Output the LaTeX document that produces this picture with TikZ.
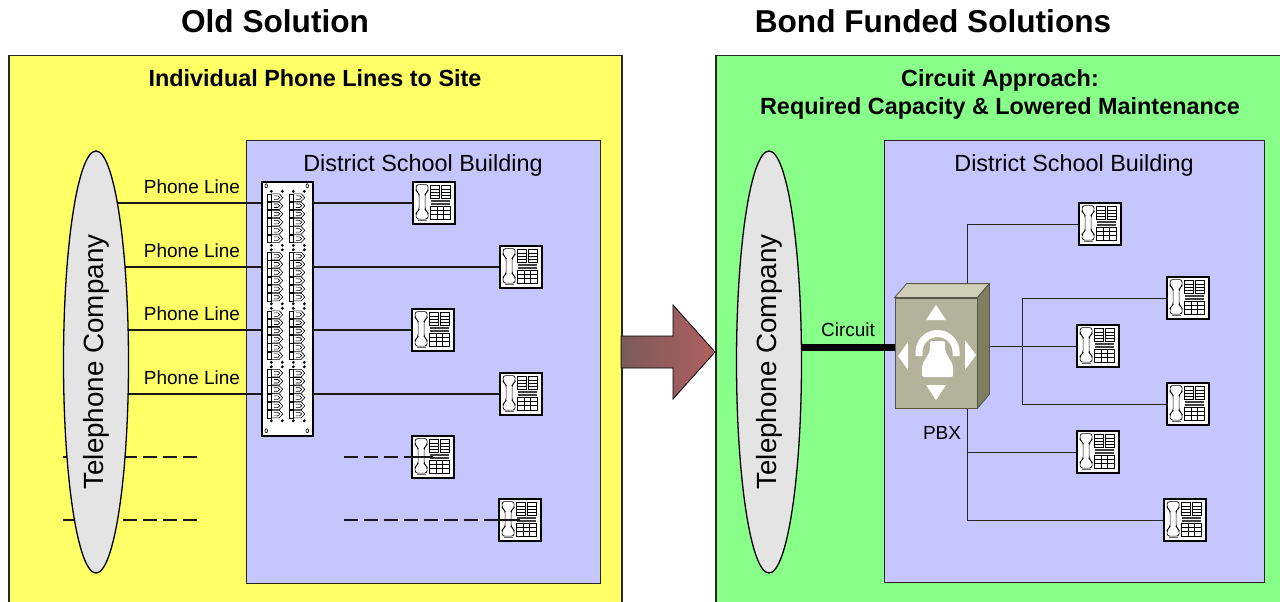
\documentclass[tikz,border=0pt]{standalone}
\usepackage{fontspec}
\setmainfont{Liberation Sans}
\usepackage{xcolor}
\definecolor{oldyellow}{HTML}{FFFF66}
\definecolor{newgreen}{HTML}{88FF88}
\definecolor{bldblue}{HTML}{C6C6FF}
\definecolor{telcogray}{HTML}{E4E4E4}
\definecolor{pbxfront}{HTML}{B3B39B}
\definecolor{pbxtop}{HTML}{CFCFB8}
\definecolor{pbxside}{HTML}{7E7E60}
\definecolor{pbxedge}{HTML}{55554A}
\definecolor{arrowdark}{HTML}{7A5A5A}
\definecolor{arrowlight}{HTML}{B06060}
\usepackage{tikz}
\usetikzlibrary{shapes.geometric, backgrounds}

%% desk set drawn over a phone node (units are pt, y grows downwards)
\newcommand{\phoneface}[1]{%
  \begin{scope}[shift={(#1.north west)}, line width=0.7pt]
    %% handset
    \draw[fill=white, rounded corners=2.5pt]
      (4,3.5) -- (16,3.5) -- (16,10) -- (13,12.5) -- (13,29) -- (16,31.5)
      -- (16,38) -- (4,38) -- (4,31.5) -- (7,29) -- (7,12.5) -- (4,10) -- cycle;
    \draw[black!60, line width=1.2pt] (6,39.5) -- (15,39.5);
    %% memory keys, two columns of four
    \draw (18.5,4.5) rectangle (27.5,17.5) (29,4.5) rectangle (38,17.5);
    \foreach \ky in {7.75,11,14.25}
      \draw (18.5,\ky) -- (27.5,\ky) (29,\ky) -- (38,\ky);
    %% display strip
    \fill[black!75] (18.5,19) rectangle (38,21);
    \fill[black!75] (18.5,22) rectangle (38,24);
    %% dial pad
    \draw (18.5,25) rectangle (38,38);
    \foreach \kx in {25,31.5} \draw (\kx,25) -- (\kx,38);
    \foreach \ky in {29.3,33.7} \draw (18.5,\ky) -- (38,\ky);
  \end{scope}}

\begin{document}
\begin{tikzpicture}[
      x=1pt, y=-1pt,
      %% Solution panels and school buildings
      panel/.style={rectangle, draw=black!85, line width=1.5pt,
                    anchor=north west, inner sep=0pt},
      building/.style={rectangle, draw=black!85, line width=1.3pt, fill=bldblue,
                       anchor=north west, inner sep=0pt},
      heading/.style={font=\fontsize{31.6}{38}\selectfont\bfseries, anchor=base},
      subhead/.style={font=\fontsize{23.4}{28}\selectfont\bfseries, align=center,
                      anchor=base, inner sep=0pt},
      bldname/.style={font=\fontsize{23.4}{28}\selectfont, anchor=base},
      telco/.style={ellipse, draw=black, line width=1.3pt, fill=telcogray,
                    rotate=90, minimum width=422pt, minimum height=65pt,
                    inner sep=0pt, font=\fontsize{27.8}{32}\selectfont},
      lbl/.style={font=\fontsize{19}{22}\selectfont, anchor=base, inner sep=0pt},
      %% Equipment
      phone/.style={rectangle, draw=black, line width=1.8pt, fill=white,
                    minimum width=42pt, minimum height=42pt, inner sep=0pt},
      patch/.style={rectangle, draw=black, line width=1.4pt, fill=white,
                    minimum width=51pt, minimum height=254pt, inner sep=0pt},
      pbxbox/.style={rectangle, draw=pbxedge, line width=0.8pt, fill=pbxfront,
                     minimum width=82pt, minimum height=110pt, inner sep=0pt},
      %% Cabling
      wire/.style={draw=black!90, line width=1.2pt},
      dashwire/.style={wire, dash pattern=on 14pt off 6pt},
      pbxwire/.style={draw=black!85, line width=1pt},
      circuit/.style={draw=black, line width=7pt},
    ]
    \useasboundingbox (0,0) rectangle (1280,602);

    %% ── Headings ────────────────────────────────────────────────────────────
    \node[heading] (oldhead) at (275,33)  {Old Solution};
    \node[heading] (newhead) at (933,33)  {Bond Funded Solutions};

    %% ── Old solution: one line per phone ────────────────────────────────────
    \node[subhead] (oldsub) at (315,86) {Individual Phone Lines to Site};
    \node[bldname] (oldbldname) at (423,171) {District School Building};
    \node[telco]   (telcoold) at (96,362) {Telephone Company};
    \node[patch]   (panel) at (287.5,309) {};

    \node[phone] (p1) at (434,203) {};
    \node[phone] (p2) at (521,267) {};
    \node[phone] (p3) at (433,330) {};
    \node[phone] (p4) at (521,394) {};
    \node[phone] (p5) at (433,457) {};
    \node[phone] (p6) at (520,520) {};

    %% jacks on the punch-down panel
    \begin{scope}[shift={(panel.north west)}, line width=0.6pt]
      \foreach \cx in {0,22} {
        \foreach \b in {0,...,3} {
          \foreach \k in {0,...,5} {
            \pgfmathsetmacro\py{12.5+58.5*\b+8.2*\k}
            \draw (\cx+5.5,\py) rectangle (\cx+10,\py+7.5);
            \draw (\cx+10,\py) -- (\cx+18,\py) -- (\cx+21.5,\py+3.75)
                  -- (\cx+18,\py+7.5) -- (\cx+10,\py+7.5);
            \draw (\cx+12.5,\py+2) -- (\cx+16.5,\py+2) -- (\cx+18.5,\py+3.75)
                  -- (\cx+16.5,\py+5.5) -- (\cx+12.5,\py+5.5);
          }
          \fill (\cx+10,10+58.5*\b) circle[radius=1.6pt]
                (\cx+21,10+58.5*\b) circle[radius=1.6pt]
                (\cx+10,64+58.5*\b) circle[radius=1.6pt]
                (\cx+21,64+58.5*\b) circle[radius=1.6pt];
        }
      }
      \draw (5,4.5) ellipse[x radius=1.3pt, y radius=2pt]
            (46,4.5) ellipse[x radius=1.3pt, y radius=2pt]
            (5,249.5) ellipse[x radius=1.3pt, y radius=2pt]
            (46,249.5) ellipse[x radius=1.3pt, y radius=2pt];
    \end{scope}

    \foreach \ph in {p1,p2,p3,p4,p5,p6} {\phoneface{\ph}}

    %% unfinished drops run into the last two sets
    \draw[wire] (p5.west) -- (p5.center);
    \draw[wire] (p6.west) -- (p6.center);

    %% ── New solution: one circuit into a PBX ────────────────────────────────
    \node[subhead, anchor=center] (newsub) at (1000,94)
      {Circuit Approach:\\Required Capacity \& Lowered Maintenance};
    \node[bldname] (newbldname) at (1074,171) {District School Building};
    \node[telco]   (telconew) at (769,362) {Telephone Company};

    \node[pbxbox] (pbx) at (936,353) {};
    \filldraw[fill=pbxtop, draw=pbxedge, line width=0.8pt]
      (pbx.north west) -- ++(12,-14) -- ([shift={(12,-14)}]pbx.north east)
      -- (pbx.north east) -- cycle;
    \filldraw[fill=pbxside, draw=pbxedge, line width=0.8pt]
      (pbx.north east) -- ++(12,-14) -- ([shift={(12,-14)}]pbx.south east)
      -- (pbx.south east) -- cycle;
    \begin{scope}[shift={(pbx.center)}]
      \fill[white] (0,-48) -- (10,-33) -- (-10,-33) -- cycle;
      \fill[white] (0,47) -- (10,32) -- (-10,32) -- cycle;
      \fill[white] (-38,3) -- (-28,-11) -- (-28,17) -- cycle;
      \fill[white] (40,2) -- (29,-13) -- (29,17) -- cycle;
      \draw[white, line width=7pt] (-17,3) -- (-17,-1)
        arc[start angle=180, end angle=360, radius=18.5] -- (20,3);
      \fill[white, rounded corners=2pt] (-6,-12) -- (9,-12) -- (9,-2)
        -- (17,12) -- (17,24) -- (-14,24) -- (-14,12) -- (-6,-2) -- cycle;
    \end{scope}
    \node[lbl] (pbxlbl)  at (942,439) {PBX};
    \node[lbl] (circlbl) at (848,336) {Circuit};

    \node[phone] (r1) at (1100,224) {};
    \node[phone] (r2) at (1188,298) {};
    \node[phone] (r3) at (1098,346) {};
    \node[phone] (r4) at (1188,404) {};
    \node[phone] (r5) at (1098,452) {};
    \node[phone] (r6) at (1185,520) {};
    \foreach \ph in {r1,r2,r3,r4,r5,r6} {\phoneface{\ph}}

    \coordinate (cin)  at ([shift={(0,-6)}]pbx.west);
    \coordinate (bus)  at (1022,346);
    \coordinate (drop) at ([shift={(31,0)}]pbx.south);

    %% ── Panels, arrow and cabling behind the equipment ──────────────────────
    \begin{scope}[on background layer]
      \node[panel, fill=oldyellow, minimum width=613pt, minimum height=560pt]
        (oldpanel) at (8,55) {};
      \node[panel, fill=newgreen, minimum width=600pt, minimum height=560pt]
        (newpanel) at (715,55) {};
      \node[building, minimum width=354pt, minimum height=443pt] (oldbld) at (246,140) {};
      \node[building, minimum width=380pt, minimum height=442pt] (newbld) at (884,140) {};

      \shadedraw[left color=arrowdark, right color=arrowlight, draw=black, line width=0.8pt]
        (621,336) -- (673,336) -- (673,305) -- (715,352) -- (673,399)
        -- (673,368) -- (621,368) -- cycle;

      %% one leased line per phone
      \foreach \ph in {p1,p2,p3,p4} {
        \draw[wire] (telcoold.center |- \ph.west) -- (\ph.west);
        \node[lbl] (line-\ph) at ([shift={(96,-10)}]telcoold.center |- \ph.west) {Phone Line};
      }
      \coordinate (cut5)  at (63,457);
      \coordinate (end5)  at (197,457);
      \coordinate (cut6)  at (63,520);
      \coordinate (end6)  at (197,520);
      \coordinate (stub5) at (344,457);
      \coordinate (stub6) at (344,520);
      \draw[dashwire] (cut5) -- (end5);
      \draw[dashwire] (cut6) -- (end6);
      \draw[dashwire] (stub5) -- (p5.west);
      \draw[dashwire] (stub6) -- (p6.west);

      %% single circuit, PBX fans out to the sets
      \draw[circuit] (telconew.center |- cin) -- (cin);
      \draw[pbxwire] ([shift={(31,-14)}]pbx.north) |- (r1.west);
      \draw[pbxwire] ([shift={(12,-7)}]pbx.east) -- (r3.west);
      \draw[pbxwire] (r2.west) -| (bus) |- (r4.west);
      \draw[pbxwire] (drop) |- (r6.west);
      \draw[pbxwire] (drop |- r5.west) -- (r5.west);
    \end{scope}
  \end{tikzpicture}
\end{document}
